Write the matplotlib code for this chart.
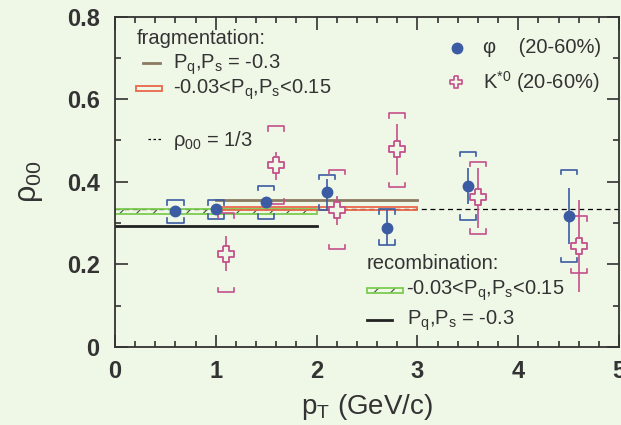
import matplotlib
matplotlib.use("Agg")
import matplotlib.pyplot as plt
from matplotlib.patches import Rectangle
import numpy as np

plt.rcParams['font.family'] = ['Liberation Sans', 'DejaVu Sans']
plt.rcParams['mathtext.fontset'] = 'custom'
plt.rcParams['mathtext.rm'] = 'Liberation Sans'
plt.rcParams['mathtext.it'] = 'Liberation Sans'

BG = '#EFF7E7'
BLUE = '#3B5CA3'
PINK = '#C4508A'
BROWN = '#8A7A62'
RED = '#E8684A'
GREEN = '#7CCB50'
DARK = '#333333'

# ---- data ----
phi_pt = [0.6, 1.0, 1.5, 2.1, 2.7, 3.5, 4.5]
phi_rho = [0.330, 0.335, 0.352, 0.374, 0.289, 0.390, 0.318]
phi_stat_lo = [0.322, 0.327, 0.344, 0.335, 0.247, 0.347, 0.250]
phi_stat_hi = [0.338, 0.343, 0.360, 0.406, 0.332, 0.433, 0.385]
phi_sys_lo = [0.301, 0.311, 0.311, 0.332, 0.247, 0.308, 0.205]
phi_sys_hi = [0.355, 0.355, 0.390, 0.417, 0.334, 0.473, 0.429]

ks_pt = [1.1, 1.6, 2.2, 2.8, 3.6, 4.6]
ks_rho = [0.225, 0.440, 0.332, 0.479, 0.362, 0.245]
ks_stat_lo = [0.183, 0.405, 0.296, 0.417, 0.288, 0.134]
ks_stat_hi = [0.269, 0.473, 0.366, 0.540, 0.433, 0.356]
ks_sys_lo = [0.132, 0.347, 0.237, 0.387, 0.274, 0.178]
ks_sys_hi = [0.324, 0.534, 0.429, 0.566, 0.449, 0.316]

frag_line_x = [1.0, 3.0]
frag_line_y = 0.356
frag_band_x = [1.0, 3.0]
frag_band_y = [0.332, 0.340]
reco_band_x = [0.0, 2.0]
reco_band_y = [0.322, 0.334]
reco_line_x = [0.0, 2.0]
reco_line_y = 0.293
ref_rho = 1.0 / 3.0

fig = plt.figure(figsize=(6.21, 4.25), dpi=100, facecolor=BG)
ax = fig.add_axes([115/621, 1-347/425, (619-115)/621, (347-16.5)/425])
ax.set_facecolor(BG)
ax.set_xlim(0, 5)
ax.set_ylim(0, 0.8)

def px2data(px, py):
    return (px - 115) / 100.8, (347 - py) / 412.5

# reference dashed line
ax.axhline(ref_rho, color='black', lw=0.9, ls=(0, (4, 3)), zorder=2)

def band(xr, yr, color, hatch, hcolor):
    ax.add_patch(Rectangle((xr[0], yr[0]), xr[1]-xr[0], yr[1]-yr[0],
                           facecolor='none', edgecolor=hcolor, hatch=hatch, lw=0, zorder=2))
    ax.add_patch(Rectangle((xr[0], yr[0]), xr[1]-xr[0], yr[1]-yr[0],
                           facecolor='none', edgecolor=color, lw=1.3, zorder=2.1))

plt.rcParams['hatch.linewidth'] = 0.8
band(reco_band_x, reco_band_y, GREEN, '//', '#3a5a30')
band(frag_band_x, frag_band_y, RED, '.', '#444444')
ax.plot(frag_line_x, [frag_line_y]*2, color=BROWN, lw=2.0, zorder=2.2)
ax.plot(reco_line_x, [reco_line_y]*2, color='#222222', lw=2.0, zorder=2.2)

def brackets(xs, lo, hi, color):
    w = 0.08
    arm = 0.011
    for x, l, h in zip(xs, lo, hi):
        ax.plot([x-w, x-w, x+w, x+w], [h-arm, h, h, h-arm], color=color, lw=1.2, zorder=3)
        ax.plot([x-w, x-w, x+w, x+w], [l+arm, l, l, l+arm], color=color, lw=1.2, zorder=3)

brackets(phi_pt, phi_sys_lo, phi_sys_hi, BLUE)
brackets(ks_pt, ks_sys_lo, ks_sys_hi, PINK)

ax.vlines(phi_pt, phi_stat_lo, phi_stat_hi, color=BLUE, lw=1.2, zorder=3)
ax.vlines(ks_pt, ks_stat_lo, ks_stat_hi, color=PINK, lw=1.2, zorder=3)

a = 0.33
plus = [(-a, 1), (a, 1), (a, a), (1, a), (1, -a), (a, -a), (a, -1), (-a, -1),
        (-a, -a), (-1, -a), (-1, a), (-a, a), (-a, 1)]
ax.plot(phi_pt, phi_rho, 'o', color=BLUE, ms=7.5, zorder=4)
ax.plot(ks_pt, ks_rho, ls='none', marker=plus, ms=11, mfc=BG, mec=PINK, mew=1.3, zorder=4)

# ticks
ax.set_xticks([0, 1, 2, 3, 4, 5])
ax.set_xticklabels(['0', '1', '2', '3', '4', '5'])
ax.set_xticks(np.arange(0, 5.01, 0.2), minor=True)
ax.set_yticks([0, 0.2, 0.4, 0.6, 0.8])
ax.set_yticklabels(['0', '0.2', '0.4', '0.6', '0.8'])
ax.set_yticks(np.arange(0, 0.81, 0.1), minor=True)
ax.tick_params(which='both', direction='in', top=True, right=True, color=DARK, width=1.2)
ax.tick_params(which='major', length=9, labelsize=17, labelcolor=DARK)
ax.tick_params(axis='x', which='major', pad=9)
ax.tick_params(axis='y', which='major', pad=11)
ax.tick_params(which='minor', length=4.5)
for lab in ax.get_xticklabels() + ax.get_yticklabels():
    lab.set_fontweight('bold')
for s in ax.spines.values():
    s.set_color(DARK)
    s.set_linewidth(1.3)

ax.set_xlabel(r'p$_{\rm T}$ (GeV/c)', fontsize=20, color=DARK, labelpad=7)
ax.set_ylabel(r'$\rho_{00}$', fontsize=22, color=DARK, labelpad=16)

# manual legends
fs = 14.5
def T(px, py, s, **kw):
    x, y = px2data(px, py)
    ax.text(x, y, s, fontsize=fs, color=DARK, va='center', ha='left', zorder=5, **kw)

def L(px0, px1, py, **kw):
    x0, y = px2data(px0, py)
    x1, _ = px2data(px1, py)
    ax.plot([x0, x1], [y, y], zorder=5, **kw)

def B(px0, px1, py0, py1, color, hatch, hcolor):
    x0, y1 = px2data(px0, py0)
    x1, y0 = px2data(px1, py1)
    band([x0, x1], [y0, y1], color, hatch, hcolor)

T(137, 39, 'fragmentation:')
L(143, 160, 63, color=BROWN, lw=2.0)
T(173, 65, r'P$_{\rm q}$,P$_{\rm s}$ = -0.3')
B(136, 162, 86.5, 91, RED, '.', '#444444')
T(173, 90, r'-0.03<P$_{\rm q}$,P$_{\rm s}$<0.15')
L(148, 163, 139, color='black', lw=0.9, ls=(0, (2, 2)))
T(173, 141, r'$\rho_{00}$ = 1/3')

xm, ym = px2data(457, 48)
ax.plot([xm], [ym], 'o', color=BLUE, ms=7.5, zorder=5)
T(483, 48, 'φ    (20-60%)')
xm, ym = px2data(456, 82)
ax.plot([xm], [ym], ls='none', marker=plus, ms=9, mfc=BG, mec=PINK, mew=1.2, zorder=5)
T(483, 82, r'K$^{*0}$ (20-60%)')

T(367, 264, 'recombination:')
B(367, 403, 288, 293, GREEN, '//', '#3a5a30')
T(406, 291, r'-0.03<P$_{\rm q}$,P$_{\rm s}$<0.15')
L(367, 392, 320, color='#222222', lw=2.0)
T(407, 321, r'P$_{\rm q}$,P$_{\rm s}$ = -0.3')

fig.savefig('out.png', dpi=100, facecolor=BG)
